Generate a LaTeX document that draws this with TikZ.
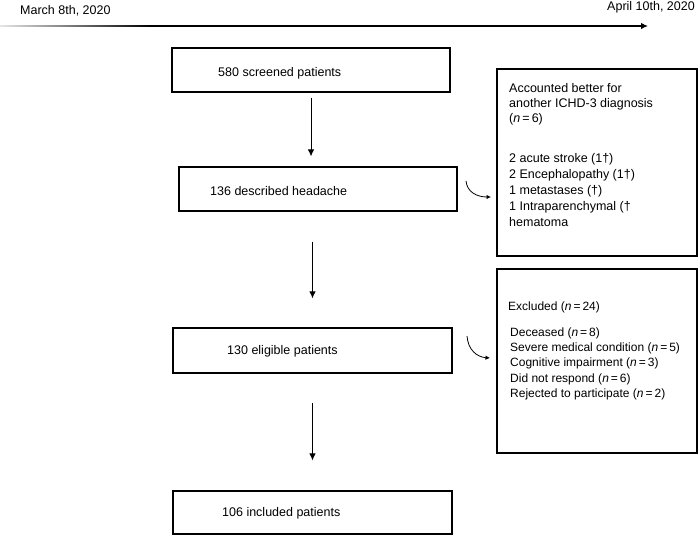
\documentclass[tikz,border=0pt]{standalone}
\usepackage{fontspec}
\setmainfont{Liberation Sans}
\usetikzlibrary{arrows.meta,calc}
\begin{document}
\begin{tikzpicture}[x=1pt,y=-1pt,
  box/.style={draw, line width=1.1pt, inner sep=0pt},
  txt/.style={anchor=base west, inner sep=0pt, font=\fontsize{12.5}{15}\selectfont},
  mtxt/.style={anchor=north west, inner sep=0pt, align=left},
  flow/.style={line width=1pt, -{Latex[length=7pt,width=6.5pt]}},
  side/.style={line width=0.8pt, -{Latex[length=4.5pt,width=4.5pt]}}]
\useasboundingbox (0,0) rectangle (698,535);
% timeline
\coordinate (tl0) at (0,26);
\coordinate (tl1) at (150,26);
\coordinate (tl2) at (648,26);
\shade[left color=gray!20, right color=black] (0,25.4) rectangle (150,26.6);
\draw[line width=1.2pt, -{Latex[length=7pt,width=6.5pt]}] (tl1) -- (tl2);
\node[txt] (d0) at (20,14.4) {March 8th, 2020};
\node[txt, anchor=base east] (d1) at (695,10.4) {April 10th, 2020};
% main boxes
\node[box, minimum width=278pt, minimum height=44pt] (b1) at (311,70) {};
\node[box, minimum width=278pt, minimum height=44pt] (b2) at (318,189) {};
\node[box, minimum width=279pt, minimum height=45pt] (b3) at (312.5,350.5) {};
\node[box, minimum width=279pt, minimum height=43pt] (b4) at (312.5,512.5) {};
\node[txt] (t1) at (218,76.4) {580 screened patients};
\node[txt] (t2) at (210,195.4) {136 described headache};
\node[txt] (t3) at (227,354.4) {130 eligible patients};
\node[txt] (t4) at (222,516.4) {106 included patients};
% side boxes
\node[box, minimum width=200pt, minimum height=187pt] (r1) at (597,162.5) {};
\node[box, minimum width=200pt, minimum height=184pt] (r2) at (597,361) {};
\node[mtxt, font=\fontsize{12.5}{15}\selectfont] (r1a) at (509,83.2)
  {Accounted better for\\another ICHD-3 diagnosis\\(\textit{n}\,=\,6)};
\node[mtxt, font=\fontsize{12.5}{16}\selectfont] (r1b) at (509,153.2)
  {2 acute stroke (1†)\\2 Encephalopathy (1†)\\1 metastases (†)\\1 Intraparenchymal (†\\hematoma};
\node[txt, font=\fontsize{12}{15}\selectfont] (r2a) at (508,310.3) {Excluded (\textit{n}\,=\,24)};
\node[mtxt, font=\fontsize{12}{15.2}\selectfont] (r2b) at (510,327.5)
  {Deceased (\textit{n}\,=\,8)\\Severe medical condition (\textit{n}\,=\,5)\\Cognitive impairment (\textit{n}\,=\,3)\\Did not respond (\textit{n}\,=\,6)\\Rejected to participate (\textit{n}\,=\,2)};
% vertical arrows
\draw[flow, shorten <=5pt, shorten >=10pt] (b1.south) -- (b1.south |- b2.north);
\draw[flow, shorten <=30pt, shorten >=29pt] (b3.north |- b2.south) -- (b3.north);
\draw[flow, shorten <=29pt, shorten >=30pt] (b3.south) -- (b4.north);
% curved side arrows
\coordinate (c1s) at (466,181);
\coordinate (c1e) at (491,197);
\coordinate (c2s) at (467,336);
\coordinate (c2e) at (490,358);
\draw[side] (c1s) .. controls (467,192) and (477,197) .. (c1e);
\draw[side] (c2s) .. controls (468,350) and (477,357) .. (c2e);
\end{tikzpicture}
\end{document}
